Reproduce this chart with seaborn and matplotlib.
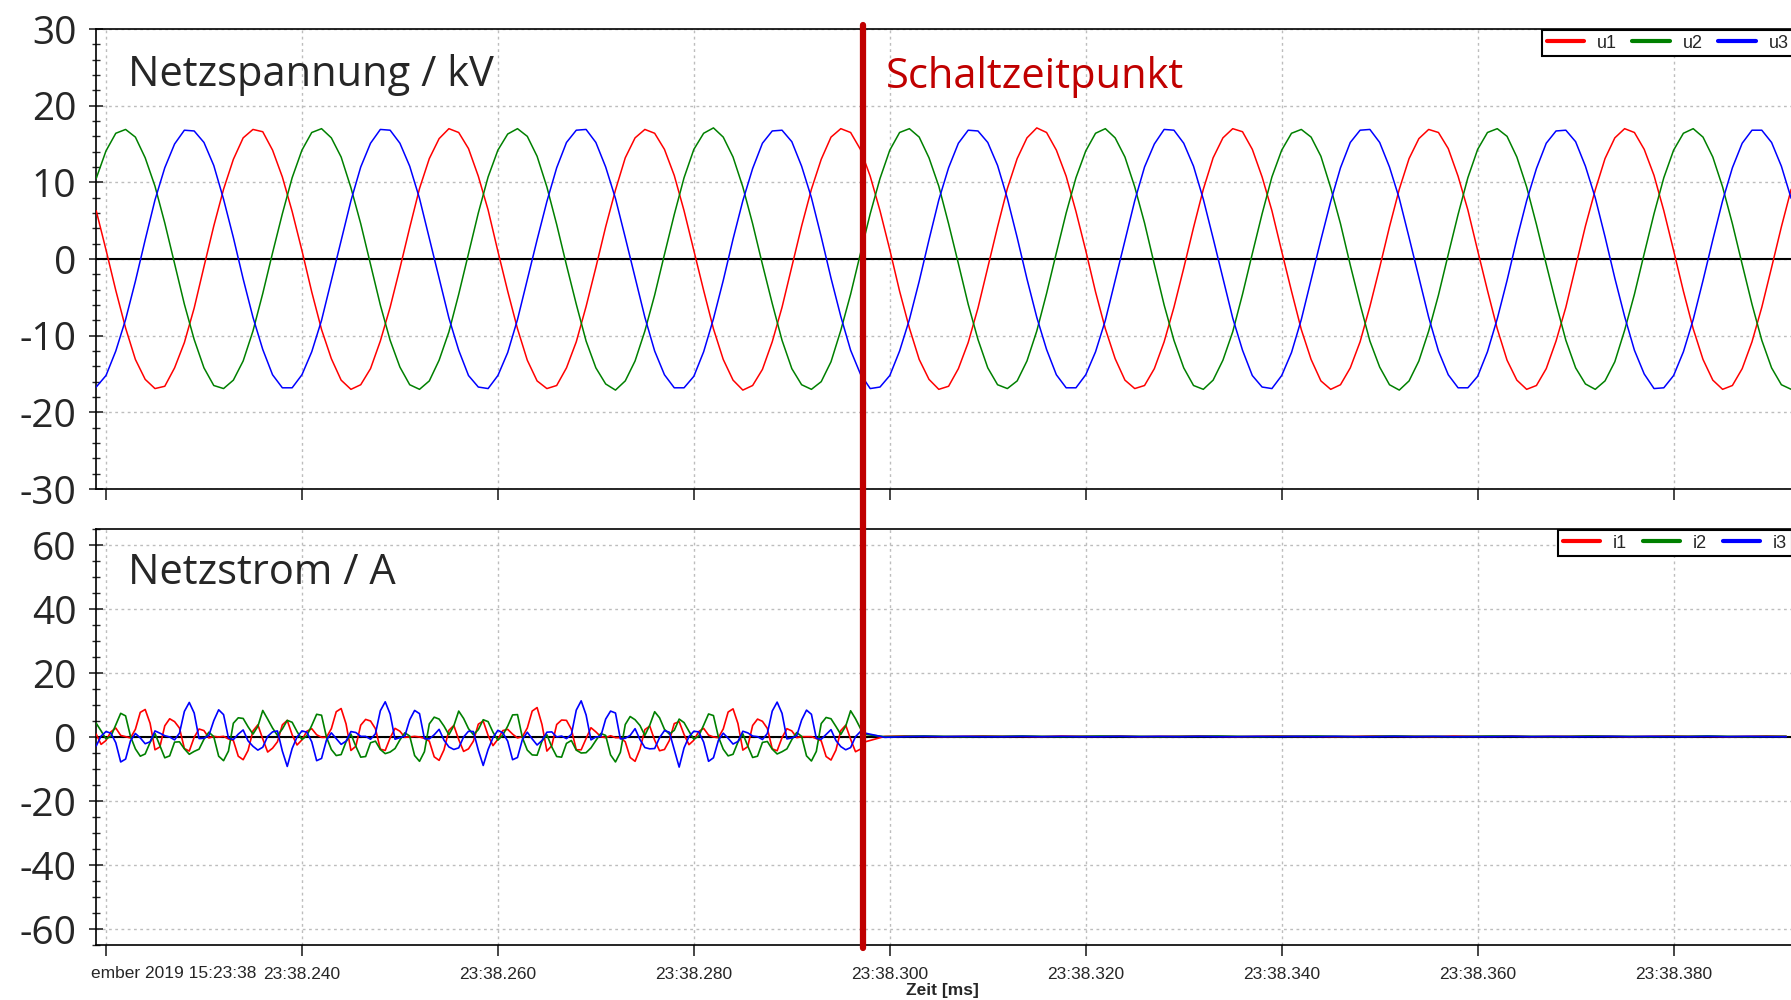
import numpy as np
import pandas as pd
import matplotlib
matplotlib.use('Agg')
import matplotlib.pyplot as plt
import matplotlib.transforms as mtransforms
from matplotlib.lines import Line2D
from matplotlib.ticker import MultipleLocator, FuncFormatter
import seaborn as sns

sns.set_style('white')
plt.rcParams['font.family'] = ['Open Sans', 'DejaVu Sans']
plt.rcParams['axes.unicode_minus'] = False

# ---- Netzspannung (kV), one sample per ms starting at 23:38.219 ----
u_t0 = 219.0
u_dt = 1.0
u1 = [6.3, 1.2, -4.1, -9.0, -13.1, -15.7, -16.9, -16.6, -14.2, -10.9, -6.4, -1.0, 4.3, 9.1, 13.0, 15.8, 16.9, 16.6, 14.2, 10.7,
      6.2, 1.1, -4.3, -9.2, -13.0, -15.8, -17.0, -16.4, -14.3, -10.7, -6.3, -1.2, 4.1, 9.2, 13.1, 15.7, 17.0, 16.5, 14.4, 10.8,
      6.4, 1.0, -4.2, -9.1, -13.2, -15.9, -16.9, -16.5, -14.2, -10.8, -6.2, -1.1, 4.2, 9.0, 13.2, 15.8, 16.9, 16.4, 14.3, 10.9,
      6.3, 1.1, -4.1, -9.1, -13.1, -15.8, -17.1, -16.5, -14.4, -10.8, -6.3, -1.0, 4.3, 9.1, 13.0, 15.9, 17.0, 16.5, 14.3, 10.8,
      6.3, 1.2, -4.2, -9.0, -13.1, -15.7, -17.0, -16.6, -14.3, -10.9, -6.4, -1.1, 4.2, 9.2, 13.1, 15.8, 17.1, 16.5, 14.2, 10.8,
      6.2, 1.1, -4.3, -9.1, -13.0, -15.8, -16.9, -16.5, -14.3, -10.8, -6.3, -1.2, 4.1, 9.1, 13.2, 15.8, 17.0, 16.6, 14.3, 10.7,
      6.3, 1.0, -4.2, -9.2, -13.1, -15.9, -17.0, -16.4, -14.2, -10.8, -6.2, -1.1, 4.2, 9.1, 13.1, 15.7, 16.9, 16.5, 14.4, 10.8,
      6.4, 1.1, -4.1, -9.1, -13.2, -15.8, -17.0, -16.5, -14.3, -10.7, -6.3, -1.0, 4.3, 9.0, 13.1, 15.8, 17.0, 16.5, 14.3, 10.9,
      6.3, 1.1, -4.2, -9.1, -13.1, -15.8, -17.0, -16.5, -14.3, -10.8, -6.3, -1.1, 4.2, 9.1]
u2 = [10.5, 14.1, 16.4, 16.9, 15.9, 13.2, 9.5, 4.7, -0.6, -5.9, -10.5, -14.2, -16.5, -16.9, -15.8, -13.3, -9.4, -4.5, 0.8, 5.9,
      10.6, 14.2, 16.5, 17.0, 15.8, 13.3, 9.3, 4.6, -0.7, -6.0, -10.6, -14.1, -16.4, -17.0, -15.9, -13.2, -9.5, -4.6, 0.7, 6.0,
      10.7, 14.2, 16.3, 17.0, 16.0, 13.4, 9.4, 4.5, -0.8, -5.9, -10.7, -14.2, -16.3, -17.1, -15.9, -13.3, -9.4, -4.7, 0.6, 5.8,
      10.6, 14.3, 16.4, 17.1, 15.9, 13.3, 9.4, 4.6, -0.7, -5.8, -10.6, -14.3, -16.4, -17.0, -16.0, -13.4, -9.3, -4.6, 0.7, 5.9,
      10.5, 14.2, 16.5, 17.0, 15.9, 13.2, 9.5, 4.6, -0.6, -5.9, -10.5, -14.2, -16.4, -16.9, -15.9, -13.3, -9.4, -4.5, 0.8, 6.0,
      10.6, 14.1, 16.4, 17.0, 15.8, 13.3, 9.4, 4.7, -0.7, -6.0, -10.6, -14.2, -16.5, -17.0, -15.8, -13.2, -9.5, -4.6, 0.7, 5.9,
      10.7, 14.2, 16.4, 16.9, 15.9, 13.4, 9.3, 4.6, -0.8, -5.9, -10.7, -14.1, -16.4, -17.1, -15.9, -13.3, -9.4, -4.7, 0.6, 5.8,
      10.6, 14.3, 16.5, 17.0, 16.0, 13.3, 9.4, 4.5, -0.7, -5.8, -10.6, -14.2, -16.3, -17.0, -15.9, -13.4, -9.3, -4.6, 0.7, 5.9,
      10.6, 14.2, 16.4, 17.0, 15.9, 13.3, 9.4, 4.6, -0.7, -5.9, -10.6, -14.2, -16.4, -17.0]
u3 = [-16.7, -15.2, -12.0, -7.9, -2.9, 2.5, 7.7, 11.9, 15.0, 16.8, 16.7, 15.2, 12.2, 7.8, 2.8, -2.6, -7.6, -11.8, -15.1, -16.8,
      -16.8, -15.1, -12.1, -8.0, -2.8, 2.4, 7.6, 12.0, 15.1, 16.9, 16.8, 15.1, 12.1, 7.9, 2.7, -2.5, -7.7, -11.9, -15.2, -16.7,
      -16.9, -15.2, -12.2, -7.9, -2.7, 2.5, 7.5, 11.9, 15.2, 16.8, 16.9, 15.2, 12.0, 7.9, 2.8, -2.4, -7.6, -12.0, -15.1, -16.8,
      -16.8, -15.3, -12.1, -7.8, -2.8, 2.6, 7.6, 11.8, 15.1, 16.7, 16.8, 15.3, 12.1, 8.0, 2.9, -2.5, -7.5, -11.9, -15.0, -16.9,
      -16.7, -15.2, -12.0, -7.9, -2.9, 2.5, 7.7, 11.9, 15.1, 16.8, 16.7, 15.2, 12.2, 7.9, 2.8, -2.6, -7.6, -11.8, -15.1, -16.8,
      -16.8, -15.1, -12.1, -8.0, -2.8, 2.4, 7.6, 12.0, 15.0, 16.9, 16.8, 15.1, 12.1, 7.8, 2.7, -2.5, -7.7, -11.9, -15.2, -16.7,
      -16.9, -15.2, -12.2, -7.9, -2.7, 2.5, 7.5, 11.9, 15.2, 16.8, 16.9, 15.2, 12.0, 7.9, 2.8, -2.4, -7.6, -12.0, -15.1, -16.8,
      -16.8, -15.3, -12.1, -7.8, -2.8, 2.6, 7.6, 11.8, 15.1, 16.7, 16.8, 15.3, 12.1, 8.0, 2.9, -2.5, -7.5, -11.9, -15.0, -16.9,
      -16.8, -15.2, -12.1, -7.9, -2.8, 2.5, 7.6, 11.9, 15.1, 16.8, 16.8, 15.2, 12.1, 7.9]

# ---- Netzstrom (A) before switching, one sample per 0.5 ms from 23:38.219 ----
i_t0 = 219.0
i_dt = 0.5
i1_pre = [0.9, -2.3, -1.1, 1.6, 2.8, 0.5, 0.1, -0.3, 2.4, 7.7, 8.6, 4.3, -4.0, -3.1, 3.5, 5.7, 4.8, 2.8, -3.6, -4.4,
          -0.1, 2.5, 2.0, -0.3, 0.2, 0.0, 0.2, -0.6, -1.1, -6.0, -7.1, -4.2, 1.9, 3.8, -0.6, -4.7, -3.5, -1.5, 3.8, 5.2,
          0.7, -2.5, -0.9, 1.8, 2.6, 0.7, -0.1, -0.1, 2.6, 7.9, 8.9, 4.1, -4.2, -2.9, 3.7, 5.5, 5.0, 2.6, -3.8, -4.2,
          -0.3, 2.7, 1.8, -0.1, 0.0, 0.2, 0.0, -0.4, -1.3, -6.2, -7.3, -4.0, 2.1, 3.6, -0.8, -4.5, -3.7, -1.3, 4.0, 5.0,
          0.5, -2.7, -0.7, 2.0, 2.4, 0.9, -0.3, 0.1, 2.8, 8.1, 9.2, 3.9, -4.4, -2.7, 3.9, 5.3, 5.2, 2.4, -4.0, -4.0,
          -0.5, 2.9, 1.6, 0.1, -0.2, 0.4, -0.2, -0.2, -1.5, -6.4, -7.6, -3.8, 2.3, 3.4, -1.0, -4.3, -3.9, -1.1, 4.2, 4.8,
          0.8, -2.4, -1.0, 1.7, 2.7, 0.6, 0.0, -0.2, 2.5, 7.8, 8.8, 4.2, -4.1, -3.0, 3.6, 5.6, 4.9, 2.7, -3.7, -4.3,
          -0.2, 2.6, 1.9, -0.2, 0.1, 0.1, 0.1, -0.5, -1.2, -6.1, -7.2, -4.1, 2.0, 3.7, -0.7, -4.6, -3.8]
i2_pre = [4.3, 1.9, -0.6, 0.2, 3.8, 7.4, 6.6, 0.2, -3.7, -6.0, -5.3, -1.7, 1.1, -2.7, -6.5, -5.9, -1.6, -1.5, -3.7, -5.4,
          -4.5, -3.8, -0.7, 1.5, 0.1, -6.0, -7.4, -4.4, 4.3, 6.0, 5.8, 3.2, 0.9, 3.3, 8.3, 5.6, 2.8, 0.5, 2.5, 5.2,
          4.6, 1.7, -0.8, 0.4, 3.6, 7.1, 6.8, 0.0, -3.9, -5.8, -5.5, -1.5, 0.9, -2.9, -6.3, -6.1, -1.8, -1.3, -3.9, -5.2,
          -4.7, -3.6, -0.9, 1.3, 0.3, -5.8, -7.6, -4.6, 4.1, 6.2, 5.6, 3.4, 0.7, 3.5, 8.1, 5.8, 2.6, 0.7, 2.3, 5.4,
          4.8, 1.5, -1.0, 0.6, 3.4, 6.9, 7.0, -0.2, -4.1, -5.6, -5.7, -1.3, 0.7, -3.1, -6.1, -6.3, -2.0, -1.1, -4.1, -5.0,
          -4.9, -3.4, -1.1, 1.1, 0.5, -5.6, -7.8, -4.8, 3.9, 6.4, 5.4, 3.6, 0.5, 3.7, 7.9, 6.0, 2.4, 0.9, 2.1, 5.6,
          4.5, 1.8, -0.7, 0.3, 3.7, 7.2, 6.7, 0.1, -3.8, -5.9, -5.4, -1.6, 1.0, -2.8, -6.4, -6.0, -1.7, -1.4, -3.8, -5.3,
          -4.6, -3.7, -0.8, 1.4, 0.2, -5.9, -7.5, -4.5, 4.2, 6.1, 5.7, 3.3, 0.8, 3.4, 8.2, 5.7, 2.7]
i3_pre = [-2.8, 0.3, 1.7, 1.2, -1.8, -7.8, -6.9, -1.2, 1.1, -0.3, -2.1, -1.5, 1.9, 1.2, 0.4, 0.0, -0.9, 1.2, 8.0, 10.8,
          7.5, -0.5, -0.4, 0.5, 5.1, 8.5, 7.0, -0.3, -0.8, 0.9, 2.2, -1.2, -2.9, -4.1, -3.2, 0.2, 1.6, 1.9, -4.4, -9.2,
          -3.6, 0.0, 1.9, 1.5, -1.5, -7.4, -6.7, -1.0, 1.3, -0.5, -2.3, -1.3, 1.7, 1.4, 0.2, 0.2, -0.7, 1.0, 8.2, 11.0,
          7.2, -0.7, -0.2, 0.3, 5.4, 8.3, 7.3, -0.5, -0.6, 0.7, 2.4, -1.0, -3.1, -3.9, -3.4, 0.0, 1.8, 1.7, -4.1, -8.9,
          -3.9, -0.2, 2.1, 1.3, -1.3, -7.1, -6.4, -0.8, 1.5, -0.6, -2.5, -1.1, 1.5, 1.6, 0.0, 0.3, -0.5, 0.8, 8.4, 11.3,
          6.9, -0.9, 0.0, 0.2, 5.6, 8.1, 7.5, -0.6, -0.4, 0.5, 2.6, -0.8, -3.3, -3.7, -3.6, -0.2, 2.0, 1.5, -3.9, -9.4,
          -3.4, 0.1, 1.8, 1.6, -1.6, -7.6, -6.5, -1.1, 1.2, -0.4, -2.2, -1.4, 1.8, 1.3, 0.3, 0.1, -0.8, 1.1, 8.1, 10.9,
          7.4, -0.6, -0.3, 0.4, 5.3, 8.4, 7.1, -0.4, -0.7, 0.8, 2.3, -1.1, -3.0, -4.0, -3.3, 0.1, 1.7]

# ---- Netzstrom (A) after switching, one sample per 2 ms from 23:38.2975 ----
post_t0 = 297.5
post_dt = 2.0
i1_post = [-1.5, 0.2, 0.3, 0.2, 0.1, 0.2, 0.3, 0.2, 0.2, 0.1, 0.3, 0.2, 0.2, 0.3, 0.1, 0.2,
           0.2, 0.3, 0.2, 0.1, 0.2, 0.3, 0.2, 0.2, 0.1, 0.2, 0.3, 0.2, 0.2, 0.1, 0.3, 0.2,
           0.2, 0.3, 0.1, 0.2, 0.2, 0.3, 0.2, 0.1, 0.2, 0.3, 0.2, 0.2, 0.1, 0.2, 0.3, 0.2]
i2_post = [0.8, 0.1, 0.2, 0.3, 0.2, 0.1, 0.2, 0.2, 0.3, 0.2, 0.1, 0.2, 0.3, 0.2, 0.2, 0.1,
           0.2, 0.2, 0.3, 0.2, 0.1, 0.2, 0.2, 0.3, 0.2, 0.1, 0.2, 0.3, 0.2, 0.2, 0.1, 0.2,
           0.3, 0.2, 0.2, 0.1, 0.2, 0.3, 0.2, 0.2, 0.1, 0.2, 0.2, 0.3, 0.2, 0.1, 0.2, 0.2]
i3_post = [1.2, -0.1, 0.1, 0.2, 0.1, 0.2, 0.1, 0.1, 0.2, 0.1, 0.2, 0.1, 0.1, 0.2, 0.1, 0.2,
           0.1, 0.2, 0.1, 0.1, 0.2, 0.1, 0.2, 0.1, 0.2, 0.1, 0.1, 0.2, 0.1, 0.2, 0.1, 0.1,
           0.1, 0.2, 0.1, 0.2, 0.1, 0.1, 0.2, 0.1, 0.2, 0.1, 0.1, 0.2, 0.1, 0.2, 0.1, 0.1]

switch_time = 297.3
x_ticks = [220, 240, 260, 280, 300, 320, 340, 360, 380]
date_label = 'ember 2019 15:23:38'
colors = ['#ff0000', '#008000', '#0000ff']

# ---- long-form tables for seaborn ----
df_u = pd.concat([pd.DataFrame({'t': u_t0 + u_dt * np.arange(len(v)), 'val': v, 'phase': name})
                  for name, v in [('u1', u1), ('u2', u2), ('u3', u3)]], ignore_index=True)
frames = []
for name, pre, post in [('i1', i1_pre, i1_post), ('i2', i2_pre, i2_post), ('i3', i3_pre, i3_post)]:
    t = np.concatenate([i_t0 + i_dt * np.arange(len(pre)), post_t0 + post_dt * np.arange(len(post))])
    frames.append(pd.DataFrame({'t': t, 'val': pre + post, 'phase': name}))
df_i = pd.concat(frames, ignore_index=True)

W, H = 1791, 1000
fig = plt.figure(figsize=(W / 100, H / 100), dpi=100)
ax1 = fig.add_axes([96 / W, 1 - 489 / H, (1800 - 96) / W, 460 / H])
ax2 = fig.add_axes([96 / W, 1 - 945 / H, (1800 - 96) / W, 416 / H])

sns.lineplot(data=df_u, x='t', y='val', hue='phase', palette=dict(zip(['u1', 'u2', 'u3'], colors)),
             estimator=None, lw=1.1, legend=False, ax=ax1, zorder=3)
sns.lineplot(data=df_i, x='t', y='val', hue='phase', palette=dict(zip(['i1', 'i2', 'i3'], colors)),
             estimator=None, lw=1.2, legend=False, ax=ax2, zorder=3)

for ax in (ax1, ax2):
    ax.set_xlim(218.98, 392.9)
    ax.set_xlabel('')
    ax.set_ylabel('')
    ax.set_xticks(x_ticks)
    ax.axhline(0, color='black', lw=1.5, zorder=2)
    ax.set_axisbelow(True)
    ax.grid(True, which='major', color='#bdbdbd', ls=(0, (2, 2.5)), lw=1.0)
    for s in ax.spines.values():
        s.set_color('black')
        s.set_linewidth(1.2)
    ax.spines['right'].set_visible(False)
    ax.tick_params(axis='y', which='major', direction='inout', length=10, width=1.2, pad=9,
                   labelsize=28, left=True)
    ax.tick_params(axis='y', which='minor', direction='inout', length=6, width=1.0, left=True)
    ax.tick_params(axis='x', which='major', direction='out', length=8, width=1.2, bottom=True)

ax1.set_ylim(-30, 30)
ax1.yaxis.set_major_locator(MultipleLocator(10))
ax1.yaxis.set_minor_locator(MultipleLocator(2))
ax1.tick_params(axis='x', labelbottom=False)

ax2.set_ylim(-65, 65)
ax2.yaxis.set_major_locator(MultipleLocator(20))
ax2.yaxis.set_minor_locator(MultipleLocator(5))
ax2.xaxis.set_major_formatter(FuncFormatter(lambda v, p: '' if v < 230 else '23:38.%03d' % round(v)))
ax2.tick_params(axis='x', labelsize=12.5, pad=8, labelfontfamily='Liberation Sans')

# panel titles
fig.text(128 / W, 1 - 86 / H, 'Netzspannung / kV', fontsize=30, va='baseline', ha='left')
fig.text(886 / W, 1 - 88 / H, 'Schaltzeitpunkt', fontsize=30, va='baseline', ha='left', color='#c00000')
fig.text(128 / W, 1 - 584 / H, 'Netzstrom / A', fontsize=30, va='baseline', ha='left')

# axis caption and clipped date label
fig.text(942 / W, 1 - 990 / H, 'Zeit [ms]', fontsize=12.5, fontweight='bold', ha='center', va='center',
         family='Liberation Sans')
fig.text(91 / W, 1 - 974 / H, date_label, fontsize=12.5, ha='left', va='center', family='Liberation Sans')

# switching instant across both panels
trans = mtransforms.blended_transform_factory(ax1.transData, fig.transFigure)
fig.add_artist(Line2D([switch_time, switch_time], [1 - 25 / H, 1 - 948 / H], transform=trans,
                      color='#c00000', lw=4.5, zorder=10))

# legends
leg_kw = dict(loc='upper left', bbox_transform=fig.transFigure, ncol=3, frameon=True, fancybox=False,
              edgecolor='black', framealpha=1, borderpad=0.25, handlelength=2.1, handletextpad=0.7,
              columnspacing=0.85, borderaxespad=0, prop={'family': 'Liberation Sans', 'size': 13})
handles = [Line2D([], [], color=c, lw=3) for c in colors]
leg1 = ax1.legend(handles, ['u1', 'u2', 'u3'], bbox_to_anchor=(1542 / W, 1 - 30 / H), **leg_kw)
leg1.get_frame().set_linewidth(1.5)
leg2 = ax2.legend(handles, ['i1', 'i2', 'i3'], bbox_to_anchor=(1558 / W, 1 - 530 / H), **leg_kw)
leg2.get_frame().set_linewidth(1.5)

fig.savefig('out.png', dpi=100)
